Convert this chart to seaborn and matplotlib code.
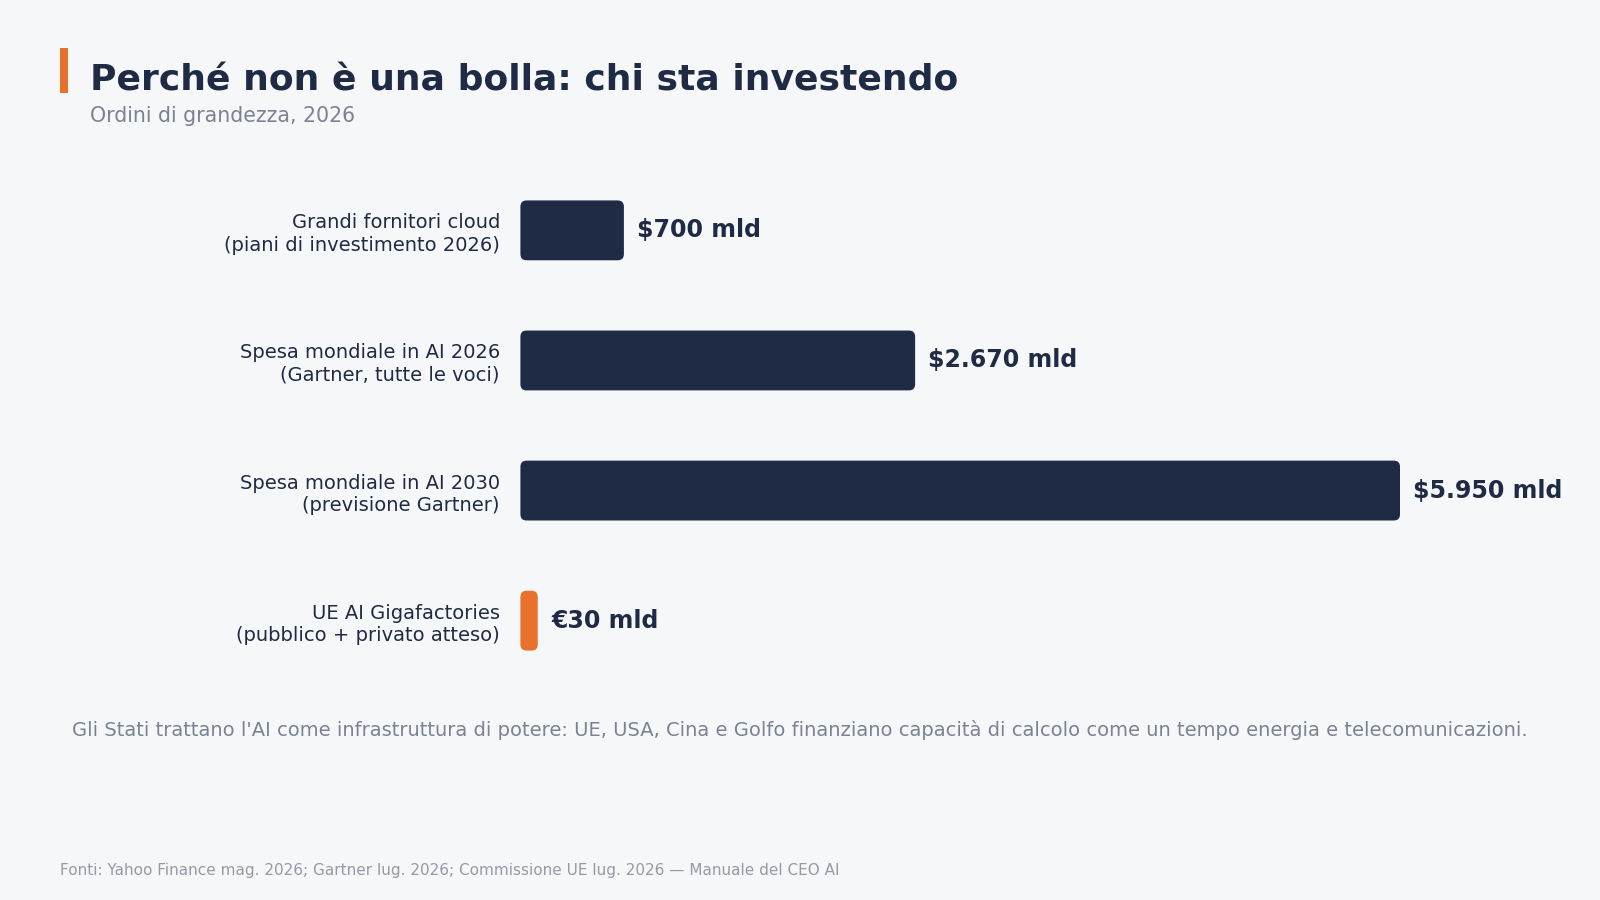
import matplotlib
matplotlib.use("Agg")
import matplotlib.pyplot as plt
import seaborn as sns
from matplotlib.patches import FancyBboxPatch, Rectangle
from matplotlib.transforms import IdentityTransform

# Data
categories = [
    "Grandi fornitori cloud\n(piani di investimento 2026)",
    "Spesa mondiale in AI 2026\n(Gartner, tutte le voci)",
    "Spesa mondiale in AI 2030\n(previsione Gartner)",
    "UE AI Gigafactories\n(pubblico + privato atteso)",
]
values = [700, 2670, 5950, 30]
value_labels = ["$700 mld", "$2.670 mld", "$5.950 mld", "€30 mld"]
bar_colors = ["#1f2a44", "#1f2a44", "#1f2a44", "#e8712b"]

title = "Perché non è una bolla: chi sta investendo"
subtitle = "Ordini di grandezza, 2026"
caption = ("Gli Stati trattano l'AI come infrastruttura di potere: UE, USA, Cina e Golfo "
           "finanziano capacità di calcolo come un tempo energia e telecomunicazioni.")
source = "Fonti: Yahoo Finance mag. 2026; Gartner lug. 2026; Commissione UE lug. 2026 — Manuale del CEO AI"

BG = "#f6f7f9"
NAVY = "#1f2a44"
GRAY = "#7b8291"

sns.set_theme(style="white")
plt.rcParams["font.family"] = ["DejaVu Sans"]

# reference layout measured on a 1568x882 canvas
W, H = 1568, 882
fig = plt.figure(figsize=(16, 9), dpi=100, facecolor=BG)
sx = 1600 / W

ax = fig.add_axes([510 / W, 1 - 672 / H, 1020 / W, 510 / H])
ax.set_facecolor(BG)
sns.barplot(x=values, y=categories, hue=categories, palette=bar_colors,
            legend=False, orient="h", width=0.46, ax=ax)
ax.set_xlim(0, 1020 / (862 / 5950))
ax.set_ylim(3.5, -0.5)
sns.despine(ax=ax, left=True, bottom=True)
ax.set_xticks([])
ax.set_xlabel("")
ax.set_ylabel("")
ax.tick_params(axis="y", length=0, pad=20 * sx * 0.72)
for t in ax.get_yticklabels():
    t.set_fontsize(14)
    t.set_color(NAVY)
    t.set_linespacing(1.22)

# rounded bars + value labels
fig.canvas.draw()
for p, lab, col in zip(list(ax.patches), value_labels, bar_colors):
    bb = p.get_window_extent()
    w = max(bb.width, 17 * sx)
    r = min(6 * sx, w / 2)
    p.set_visible(False)
    fig.patches.append(FancyBboxPatch((bb.x0, bb.y0), w, bb.height,
                                      boxstyle=f"round,pad=0,rounding_size={r}",
                                      transform=IdentityTransform(),
                                      facecolor=col, edgecolor="none", figure=fig))
    fig.text((bb.x0 + w + 13 * sx) / fig.bbox.width, (bb.y0 + bb.height / 2) / fig.bbox.height,
             lab, ha="left", va="center", fontsize=17, fontweight="bold", color=NAVY)

# header
fig.patches.append(Rectangle((59 / W, 1 - 91 / H), 8 / W, 44 / H, transform=fig.transFigure,
                             facecolor="#e8712b", edgecolor="none", figure=fig))
fig.text(88 / W, 1 - 89 / H, title, ha="left", va="baseline",
         fontsize=26, fontweight="bold", color=NAVY)
fig.text(88 / W, 1 - 114 / H, subtitle, ha="left", va="center", fontsize=14.8, color=GRAY)

fig.text(0.5, 1 - 715 / H, caption, ha="center", va="center", fontsize=14, color=GRAY)
fig.text(59 / W, 1 - 853 / H, source, ha="left", va="center", fontsize=11,
         color="#959aa3")

fig.savefig("out.png", dpi=100, facecolor=BG)
